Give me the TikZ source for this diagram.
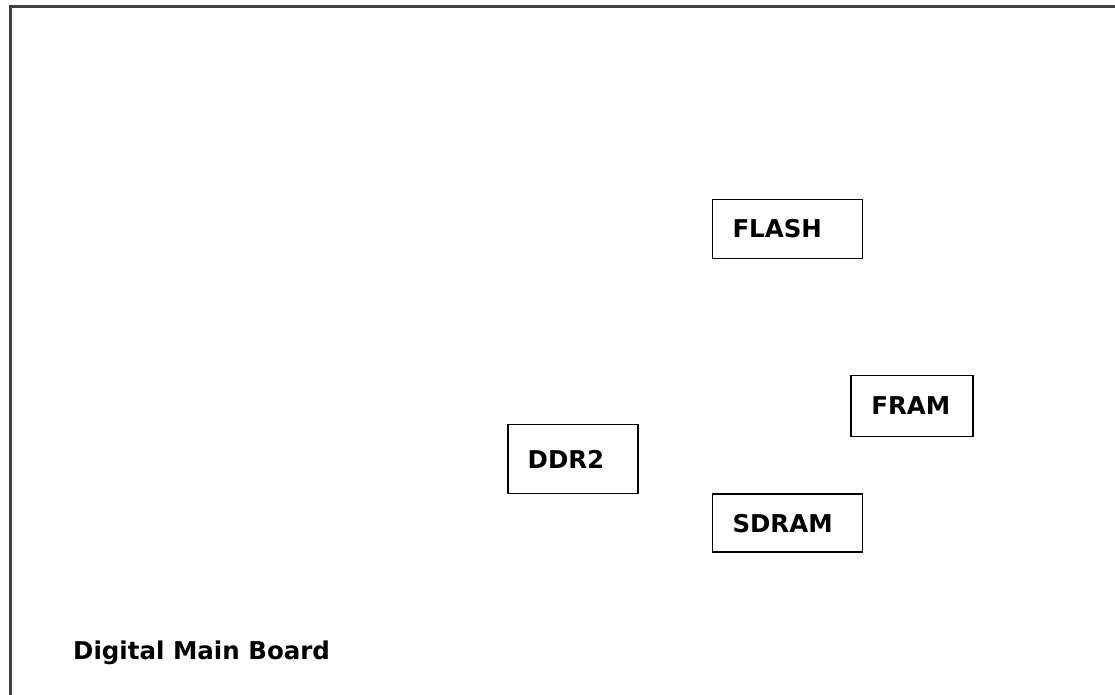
\documentclass[tikz,border=0pt]{standalone}
\usepackage{fontspec}
\setmainfont{DejaVu Sans}
\usepackage{tikz}
\usetikzlibrary{positioning}

\begin{document}
\begin{tikzpicture}[
    x=1pt,y=-1pt,
    board/.style={draw=black!75,line width=3pt},
    chip/.style={draw,line width=1.8pt,inner xsep=20pt,inner ysep=0pt,align=left,font=\fontsize{24.5}{26}\selectfont\bfseries},
    title/.style={inner sep=0pt,font=\fontsize{24.5}{26}\selectfont\bfseries}
]
\useasboundingbox (0,0) rectangle (1115,694);
\draw[board] (10,6) -- (1130,6) -- (1130,710) -- (10,710) -- cycle;

\node[chip,text width=110pt,minimum height=59pt] (FLASH) at (787.5,229) {FLASH};
\node[chip,text width=110pt,minimum height=58pt,below=234pt of FLASH] (SDRAM) {SDRAM};
\node[chip,text width=82pt,minimum height=61pt,above right=56pt and -13pt of SDRAM] (FRAM) {FRAM};
\node[chip,text width=90pt,minimum height=69pt,above left=-1pt and 73pt of SDRAM] (DDR2) {DDR2};

\node[title,anchor=west] (label) at (73,653) {Digital Main Board};
\end{tikzpicture}
\end{document}
